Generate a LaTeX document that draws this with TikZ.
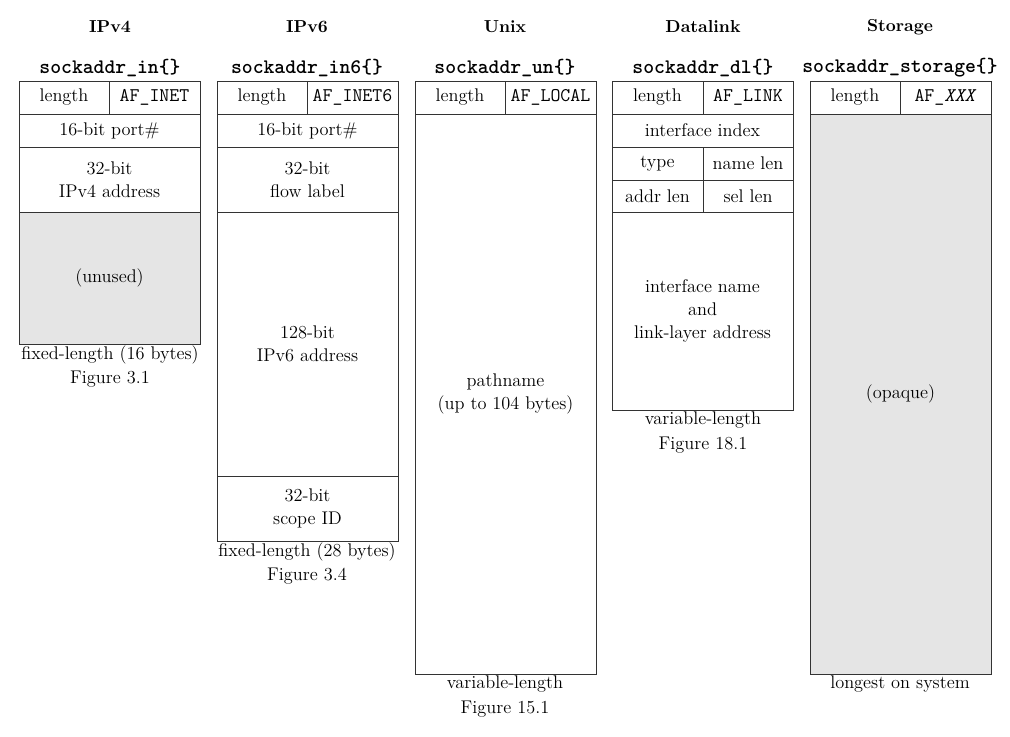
\documentclass[tikz,border=0pt]{standalone}
\usepackage{fontspec}
\usepackage[rgb]{xcolor}
\usepackage{tikz}

\begin{document}
\begin{tikzpicture}[x=0.6pt, y=-0.6pt,
  box/.style={draw=black!80, line width=0.55pt},
  shaded/.style={box, fill=black!10},
  txt/.style={align=center, inner sep=0pt, font=\fontsize{11}{13.8}\selectfont},
  title/.style={inner sep=0pt, font=\fontsize{10.4}{12}\selectfont\bfseries},
  struct/.style={inner sep=0pt, font=\fontsize{12.4}{12}\selectfont\ttfamily\bfseries},
  fam/.style={inner sep=0pt, font=\fontsize{11.6}{12}\selectfont\ttfamily}]

\useasboundingbox (0,0) rectangle (1010,737);

%% IPv4
\path
(110,27) node[title](ipfour){IPv4}
(110,68) node[struct](inname){sockaddr\_in\{\}};
\draw[box] (19,81) rectangle node[txt](inlen){length} (109,114);
\draw[box] (109,81) rectangle node[fam](infam){AF\_INET} (200,114);
\draw[box] (19,114) rectangle node[txt](inport){16-bit port\#} (200,147);
\draw[box] (19,147) rectangle node[txt](inaddr){32-bit\\IPv4 address} (200,212);
\draw[shaded] (19,212) rectangle node[txt](inzero){(unused)} (200,344);
\path
(110,355) node[txt](insize){fixed-length (16 bytes)}
(110,379) node[txt](infig){Figure 3.1};

%% IPv6
\path
(307,27) node[title](ipsix){IPv6}
(307,68) node[struct](insixname){sockaddr\_in6\{\}};
\draw[box] (217,81) rectangle node[txt](insixlen){length} (307,114);
\draw[box] (307,81) rectangle node[fam](insixfam){AF\_INET6} (398,114);
\draw[box] (217,114) rectangle node[txt](insixport){16-bit port\#} (398,147);
\draw[box] (217,147) rectangle node[txt](insixflow){32-bit\\flow label} (398,212);
\draw[box] (217,212) rectangle node[txt](insixaddr){128-bit\\IPv6 address} (398,476);
\draw[box] (217,476) rectangle node[txt](insixscope){32-bit\\scope ID} (398,541);
\path
(307,552) node[txt](insixsize){fixed-length (28 bytes)}
(307,576) node[txt](insixfig){Figure 3.4};

%% Unix
\path
(505,27) node[title](unix){Unix}
(505,68) node[struct](unname){sockaddr\_un\{\}};
\draw[box] (415,81) rectangle node[txt](unlen){length} (505,114);
\draw[box] (505,81) rectangle node[fam](unfam){AF\_LOCAL} (596,114);
\draw[box] (415,114) rectangle node[txt](unpath){pathname\\(up to 104 bytes)} (596,674);
\path
(505,684) node[txt](unsize){variable-length}
(505,709) node[txt](unfig){Figure 15.1};

%% Datalink
\path
(703,27) node[title](datalink){Datalink}
(703,68) node[struct](dlname){sockaddr\_dl\{\}};
\draw[box] (612,81) rectangle node[txt](dllen){length} (703,114);
\draw[box] (703,81) rectangle node[fam](dlfam){AF\_LINK} (793,114);
\draw[box] (612,114) rectangle node[txt](dlindex){interface index} (793,147);
\draw[box] (612,147) rectangle node[txt](dltype){type} (703,180);
\draw[box] (703,147) rectangle node[txt](dlnlen){name len} (793,180);
\draw[box] (612,180) rectangle node[txt](dlalen){addr len} (703,212);
\draw[box] (703,180) rectangle node[txt](dlslen){sel len} (793,212);
\draw[box] (612,212) rectangle node[txt](dldata){interface name\\and\\link-layer address} (793,410);
\path
(703,420) node[txt](dlsize){variable-length}
(703,445) node[txt](dlfig){Figure 18.1};

%% Storage
\path
(900,27) node[title](storage){Storage}
(900,68) node[struct](stname){sockaddr\_storage\{\}};
\draw[box] (810,81) rectangle node[txt](stlen){length} (900,114);
\draw[box] (900,81) rectangle node[fam](stfam){AF\_\textit{XXX}} (991,114);
\draw[shaded] (810,114) rectangle node[txt](stdata){(opaque)} (991,674);
\path
(900,684) node[txt](stsize){longest on system};

\end{tikzpicture}
\end{document}
